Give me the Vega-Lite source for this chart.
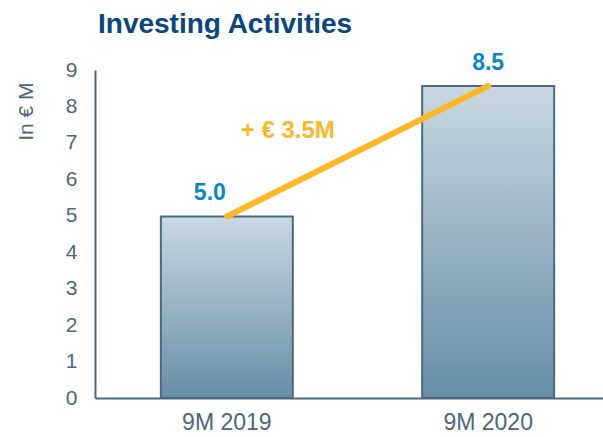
{
  "$schema": "https://vega.github.io/schema/vega-lite/v6.json",
  "width": 508,
  "height": 328,
  "autosize": "none",
  "padding": {"left": 95, "top": 70, "right": 0, "bottom": 39},
  "background": "white",
  "config": {"view": {"stroke": null}, "font": "Liberation Sans"},
  "title": {
    "text": "Investing Activities",
    "anchor": "start",
    "frame": "group",
    "dx": 3,
    "offset": -9,
    "baseline": "alphabetic",
    "fontSize": 28,
    "fontWeight": "bold",
    "color": "#0b467c"
  },
  "data": {
    "values": [
      {"period": "9M 2019", "value": 4.98, "label": "5.0"},
      {"period": "9M 2020", "value": 8.56, "label": "8.5"}
    ]
  },
  "encoding": {
    "x": {
      "field": "period",
      "type": "nominal",
      "sort": null,
      "scale": {"range": [0, 525], "paddingInner": 0.495, "paddingOuter": 0.252},
      "axis": {
        "title": null,
        "labelAngle": 0,
        "ticks": false,
        "labelPadding": 13,
        "labelFontSize": 23,
        "labelColor": "#4d6679",
        "domainColor": "#4a6a80",
        "domainWidth": 2
      }
    },
    "y": {
      "field": "value",
      "type": "quantitative",
      "scale": {"domain": [0, 9], "nice": false},
      "axis": {
        "title": "In € M",
        "titleX": -69,
        "titleY": 12,
        "titleAlign": "right",
        "titleBaseline": "middle",
        "titleFontSize": 21,
        "titleFontWeight": "normal",
        "titleColor": "#4d6679",
        "values": [0, 1, 2, 3, 4, 5, 6, 7, 8, 9],
        "grid": false,
        "ticks": false,
        "labelPadding": 18,
        "labelFontSize": 21,
        "labelColor": "#4d6679",
        "domainColor": "#4a6a80",
        "domainWidth": 2
      }
    }
  },
  "layer": [
    {
      "mark": {
        "type": "bar",
        "stroke": "#4a6a80",
        "strokeWidth": 2,
        "fill": {
          "gradient": "linear",
          "x1": 0, "y1": 0, "x2": 0, "y2": 1,
          "stops": [
            {"offset": 0, "color": "#c9d8e1"},
            {"offset": 1, "color": "#668ea7"}
          ]
        }
      }
    },
    {
      "mark": {"type": "line", "stroke": "#fbb829", "strokeWidth": 6, "strokeCap": "round"}
    },
    {
      "transform": [{"filter": "datum.period == '9M 2019'"}],
      "mark": {"type": "text", "dx": -17, "dy": -17, "baseline": "alphabetic", "fontSize": 23, "fontWeight": "bold", "color": "#0a86c8"},
      "encoding": {"text": {"field": "label"}}
    },
    {
      "transform": [{"filter": "datum.period == '9M 2020'"}],
      "mark": {"type": "text", "dx": 0, "dy": -16, "baseline": "alphabetic", "fontSize": 23, "fontWeight": "bold", "color": "#0a86c8"},
      "encoding": {"text": {"field": "label"}}
    },
    {
      "data": {"values": [{"period": "9M 2019", "value": 7.13, "note": "+ € 3.5M"}]},
      "mark": {"type": "text", "dx": 61, "baseline": "alphabetic", "align": "center", "fontSize": 24, "fontWeight": "bold", "color": "#fbb829"},
      "encoding": {"text": {"field": "note"}}
    }
  ]
}
